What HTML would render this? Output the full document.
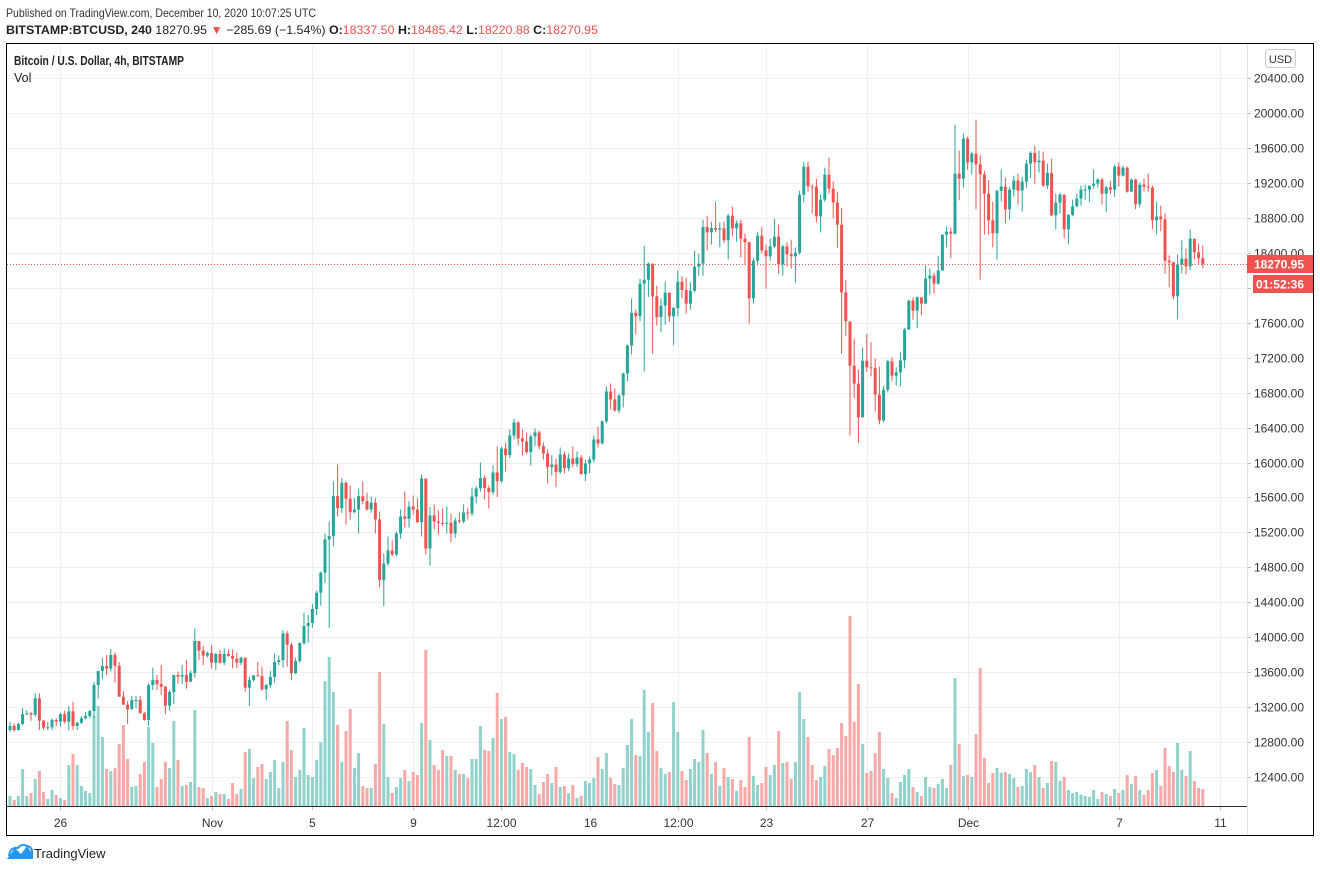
<!DOCTYPE html>
<html><head><meta charset="utf-8"><style>
html,body{margin:0;padding:0;background:#fff;width:1320px;height:872px;overflow:hidden;font-family:"Liberation Sans",sans-serif}
svg{display:block}
</style></head><body>
<svg id="chart" width="1320" height="872" viewBox="0 0 1320 872" xmlns="http://www.w3.org/2000/svg" font-family="Liberation Sans, sans-serif">
<text x="6" y="17" font-size="12" fill="#333" textLength="310" lengthAdjust="spacingAndGlyphs">Published on TradingView.com, December 10, 2020 10:07:25 UTC</text>
<text x="6" y="34" font-size="12" fill="#222" textLength="592" lengthAdjust="spacingAndGlyphs"><tspan font-weight="bold">BITSTAMP:BTCUSD, 240</tspan> 18270.95 <tspan fill="#ef5350">▼</tspan> −285.69 (−1.54%) <tspan font-weight="bold">O:</tspan><tspan fill="#ef5350">18337.50</tspan> <tspan font-weight="bold">H:</tspan><tspan fill="#ef5350">18485.42</tspan> <tspan font-weight="bold">L:</tspan><tspan fill="#ef5350">18220.88</tspan> <tspan font-weight="bold">C:</tspan><tspan fill="#ef5350">18270.95</tspan></text>
<g id="grid"></g>
<g id="vols"></g>
<g id="candles"></g>
<g id="axes"></g>
<rect x="6.5" y="43.5" width="1307" height="792" fill="none" stroke="#000" stroke-width="1"/>
<text x="14" y="65" font-size="12.5" font-weight="bold" fill="#222" textLength="170" lengthAdjust="spacingAndGlyphs">Bitcoin / U.S. Dollar, 4h, BITSTAMP</text>
<text x="14" y="82" font-size="12.5" fill="#222">Vol</text>
<g><rect x="1265.5" y="49.5" width="30" height="18" rx="3" fill="#fff" stroke="#ccc"/><text x="1280.5" y="63" font-size="11" text-anchor="middle" fill="#333">USD</text></g>
<g>
<path d="M7 859 L15 848 L21 854 L27 846 L33 855 L33 859 Z" fill="#2196f3"/>
<path d="M9 856 Q10 847 18 848 Q22 843 27 846 Q33 847 32 855" fill="none" stroke="#2196f3" stroke-width="2"/>
<text x="34" y="858" font-size="13" fill="#222">TradingView</text>
</g>
</svg>
<script>
const open0 = 12938;
const closes = [12984,12938,13007,13121,13129,13114,13301,13045,12965,12970,
13053,13034,13121,13034,13152,12984,13022,13072,13098,13156,
13453,13613,13671,13640,13797,13674,13320,13228,13175,13282,
13282,13129,13053,13453,13510,13465,13434,13217,13373,13568,
13549,13568,13491,13591,13957,13846,13789,13819,13709,13808,
13709,13808,13785,13755,13709,13766,13423,13510,13564,13556,
13404,13453,13545,13716,13739,14044,13915,13587,13728,13934,
14128,14163,14323,14510,14739,
15119,15157,15615,15478,15768,15585,15432,15462,15615,15558,
15462,15539,15348,14654,14844,14993,14947,15188,15382,15355,
15497,15462,15317,15817,15016,15394,15325,15310,15302,15310,
15188,15336,15325,15428,15417,15611,15703,15821,15707,15661,
15886,15787,16160,16084,16309,16458,16275,16240,16119,16298,
16344,16187,16103,15947,15977,15890,16092,15935,16046,15981,
16057,15867,15989,16034,16264,16218,16470,16813,16721,16595,
16767,17019,17339,17713,17675,
18047,18092,18276,17902,17665,17795,17944,17673,17768,18069,
17974,17818,17966,18241,18276,18695,18634,18684,18665,18680,
18543,18825,18680,18737,18562,18520,17879,18310,18596,18428,
18360,18474,18585,18268,18474,18382,18360,18401,19065,19386,
19160,19157,18817,19008,19294,19134,18977,18722,17947,17615,
17108,16902,16517,17165,17089,17080,16776,16482,16833,17158,
16994,17032,17169,17520,17852,17738,17890,17818,18104,18139,
18047,18196,18608,18642,18619,19306,19249,19707,19436,19535,
19413,19298,19077,18772,18623,19108,19157,18898,19123,19226,
19112,19214,19421,19543,19436,19455,19169,19314,18829,18974,
19066,18669,18833,18932,19020,19123,19123,19169,19192,19238,
19077,19150,19123,19386,19283,19375,19100,19238,18955,19180,
19157,19146,18772,18814,18783,18310,18291,17902,18268,18333,
18245,18562,18406,18337.5,18270.95];
const highs = [13030,13014,13022,13190,13167,13148,13358,13358,13053,13030,
13072,13072,13136,13159,13213,13259,13034,13098,13148,13167,
13488,13617,13766,13797,13865,13827,13716,13384,13270,13327,
13327,13327,13144,13472,13652,13568,13682,13442,13396,13568,
13606,13682,13739,13617,14102,13957,13900,13835,13911,13823,
13854,13873,13861,13861,13823,13778,13751,13549,13568,13716,
13663,13465,13613,13816,13793,14083,14071,13941,13766,13941,
14281,14254,14380,14533,14750,
15188,15325,15783,15977,15821,15783,15737,15592,15703,15783,
15657,15611,15592,15439,14959,15153,15107,15211,15462,15668,
15558,15623,15592,15863,15817,15489,15520,15451,15474,15497,
15417,15371,15428,15520,15478,15714,15730,16000,15851,15737,
15966,16183,16183,16229,16378,16504,16470,16378,16344,16321,
16389,16366,16229,16149,16084,16046,16172,16126,16103,16183,
16126,16084,16035,16069,16309,16412,16481,16870,16904,16847,
16790,17027,17351,17877,17751,
18100,18481,18291,18264,18024,17879,18069,17944,17780,18195,
18131,18115,18062,18424,18390,18779,18825,18756,18985,18749,
18756,18848,18928,18771,18779,18619,18527,18344,18642,18699,
18493,18562,18790,18722,18493,18520,18550,18462,19111,19443,
19443,19180,19248,19069,19374,19489,19218,19100,18916,18092,
17612,17417,17062,17318,17474,17375,17192,17097,16879,17177,
17204,17089,17268,17543,17863,17890,17902,
17883,18253,18219,18169,18360,18608,18700,18688,19867,19569,
19764,19730,19558,19924,19524,19340,19230,18986,19123,19352,
19260,19153,19283,19306,19268,19466,19562,19627,19569,19558,
19420,19478,19077,19089,19066,18844,19009,19077,19169,19180,
19169,19352,19256,19260,19169,19222,19409,19436,19398,19386,
19249,19249,19203,19249,19306,19169,18986,18940,18852,18371,
18299,18383,18543,18448,18665,18551,18509,18485.42];
const lows = [12920,12919,12931,12995,13110,13045,13091,12938,12938,12938,
12938,12984,12976,13014,12938,12938,12938,13007,13060,13072,
13072,13297,13526,13568,13606,13480,13320,13236,13007,13175,
13186,13129,13045,12984,13396,13396,13339,13121,13159,13236,
13472,13465,13411,13510,13537,13739,13682,13770,13644,13625,
13701,13682,13778,13644,13644,13682,13377,13213,13491,13549,
13388,13282,13423,13480,13682,13652,13663,13510,13579,13709,
13911,13938,14109,14254,14361,
14623,14108,15043,15386,15424,15291,15348,15417,15188,15520,
15451,15424,15188,14573,14356,14814,14928,14928,15127,15256,
15256,15405,15310,15153,14947,14821,15234,15176,15272,15188,
15088,15138,15302,15302,15348,15386,15531,15668,15577,15474,
15634,15604,15768,15897,16050,16263,16195,16080,16096,15966,
16187,16149,16035,15760,15851,15718,15871,15874,15901,15947,
15947,15863,15787,15878,16000,16172,16206,16447,16607,16584,
16565,16630,16931,17236,17465,
17615,17043,17894,17245,17566,17490,17577,17608,17341,17673,
17879,17707,17749,17947,18138,18138,18428,18493,18634,18462,
18512,18325,18588,18527,18348,18264,17589,17818,18264,18390,
17989,18310,18451,18161,18138,18245,18222,18058,18379,18977,
19099,18848,18749,18634,18985,19077,18794,18459,17245,17451,
16311,16734,16223,16559,17036,16986,16585,16437,16460,16803,
16929,16883,16871,17078,17524,17635,17535,
17685,17818,17921,17933,18036,18196,18463,18337,18608,19001,
19146,19352,19295,18898,18093,18608,18608,18463,18322,18986,
18738,18783,19043,18951,18875,19146,19253,19192,19318,19153,
19134,18818,18669,18848,18566,18497,18818,18921,18940,19009,
18978,19134,19146,18951,18864,19073,19043,19157,19272,19089,
19100,18898,18921,19100,19100,18669,18612,18646,18162,18005,
17868,17639,18165,18154,18200,18322,18276,18220.88];
const volumes = [10,6,10,37,10,13,27,35,14,7,16,11,8,6,41,52,41,20,15,13,90,100,69,37,35,38,62,81,47,19,20,32,44,79,63,19,27,44,38,85,46,20,21,24,96,19,18,8,10,14,12,12,7,23,12,17,54,57,28,39,42,27,34,46,18,44,85,56,29,36,78,31,29,46,64,125,149,114,81,44,75,97,38,53,20,18,18,42,134,82,29,13,19,28,36,25,
34,31,83,156,66,41,36,56,50,50,36,32,32,28,47,47,80,56,55,68,113,87,89,54,52,36,43,39,37,21,12,24,32,23,39,19,20,13,21,8,10,25,23,28,49,37,53,28,22,21,38,61,87,51,50,116,74,103,55,38,32,34,104,74,35,26,37,47,44,76,53,32,44,20,38,29,27,15,26,19,69,30,21,23,39,31,41,75,43,44,27,44,114,87,69,
41,26,29,40,57,51,58,83,70,190,84,122,62,33,35,53,74,37,28,13,8,24,31,37,19,14,10,29,19,18,22,27,18,41,128,62,30,31,29,72,138,48,23,33,38,33,34,32,28,19,20,37,34,41,29,18,23,45,44,25,29,16,13,14,11,10,9,16,7,14,12,10,17,13,16,31,22,30,16,11,16,33,36,20,58,40,34,63,36,30,55,25,18,17];
const priceTicks = [12400,12800,13200,13600,14000,14400,14800,15200,15600,16000,16400,16800,17200,17600,18000,18400,18800,19200,19600,20000,20400];
const timeTickLabels = ["26","Nov","5","9","12:00","16","12:00","23","27","Dec","7","11"];
const timeTickIndex = [12,48,72,96,117,138,159,180,204,228,264,288];
const lastPrice = 18270.95;
const countdown = "01:52:36";

const NS = "http://www.w3.org/2000/svg";
const PLOT_L = 7, PLOT_R = 1247, PLOT_T = 44, PLOT_B = 806;
function yP(p){ return 113 + (20000 - p) * 0.087375; }
function xI(i){ return 10 + i * 4.2; }
function yV(v){ return PLOT_B - v * 1.0; }
function mk(tag, attrs, parent){ const e = document.createElementNS(NS, tag); for (const k in attrs) e.setAttribute(k, attrs[k]); parent.appendChild(e); return e; }

const grid = document.getElementById('grid');
const axes = document.getElementById('axes');
priceTicks.forEach(p => {
  const y = Math.round(yP(p)) + 0.5;
  if (y < PLOT_T || y > PLOT_B) return;
  const gl = mk('line', {x1: PLOT_L, x2: PLOT_R, y1: y, y2: y, stroke: '#efefef', 'stroke-width': 1}, grid);
  
  
  mk('line', {x1: PLOT_R, x2: PLOT_R + 4, y1: y, y2: y, stroke: '#bbb'}, axes);
  const t = mk('text', {x: 1304, y: y + 4, 'font-size': 12, 'text-anchor': 'end', fill: '#333'}, axes);
  
  
  t.textContent = p.toFixed(2);
});
timeTickIndex.forEach((idx, k) => {
  const x = Math.round(xI(idx)) + 0.5;
  const gl = mk('line', {x1: x, x2: x, y1: PLOT_T, y2: PLOT_B, stroke: '#efefef', 'stroke-width': 1}, grid);
  
  
  mk('line', {x1: x, x2: x, y1: PLOT_B, y2: PLOT_B + 4, stroke: '#bbb'}, axes);
  const t = mk('text', {x: x, y: 827, 'font-size': 12, 'text-anchor': 'middle', fill: '#333'}, axes);
  
  
  t.textContent = timeTickLabels[k];
});
mk('line', {x1: PLOT_R + 0.5, x2: PLOT_R + 0.5, y1: PLOT_T, y2: 835, stroke: '#e0e3eb'}, axes);
const bl = mk('line', {x1: 6, x2: PLOT_R, y1: PLOT_B + 0.5, y2: PLOT_B + 0.5, stroke: '#2a2e39'}, axes);



const vg = document.getElementById('vols');
const cg = document.getElementById('candles');
for (let i = 0; i < closes.length; i++) {
  const o = i === 0 ? open0 : closes[i - 1];
  const c = closes[i];
  const up = c >= o;
  const x = xI(i);
  const v = volumes[i] || 0;
  const vb = mk('rect', {x: x - 1.5, y: yV(v), width: 3, height: PLOT_B - yV(v), fill: up ? '#92d2cc' : '#f7a9a7'}, vg);
  
  
  const h = Math.max(highs[i], o, c), l = Math.min(lows[i], o, c);
  const col = up ? '#26a69a' : '#ef5350';
  const w = mk('line', {x1: x, x2: x, y1: yP(h), y2: yP(l), stroke: col, 'stroke-width': 1}, cg);
  
  
  const top = yP(Math.max(o, c)), bot = yP(Math.min(o, c));
  const b = mk('rect', {x: x - 1.5, y: top, width: 3, height: Math.max(1, bot - top), fill: col}, cg);
  
  
}
const ly = Math.round(yP(lastPrice)) + 0.5;
const pl = mk('line', {x1: PLOT_L, x2: PLOT_R, y1: ly, y2: ly, stroke: '#ef5350', 'stroke-width': 1, 'stroke-dasharray': '1 2'}, axes);


const lb = mk('rect', {x: PLOT_R, y: ly - 9.5, width: 66, height: 18, fill: '#ef5350'}, axes);


const lt = mk('text', {x: 1304, y: ly + 4, 'font-size': 12, 'font-weight': 'bold', 'text-anchor': 'end', fill: '#fff'}, axes);


lt.textContent = lastPrice.toFixed(2);
const cb = mk('rect', {x: 1253, y: ly + 10.5, width: 60, height: 18, fill: '#ef5350'}, axes);


const ct = mk('text', {x: 1304, y: ly + 24, 'font-size': 12, 'font-weight': 'bold', 'text-anchor': 'end', fill: '#fff'}, axes);


ct.textContent = countdown;
</script>
</body></html>
